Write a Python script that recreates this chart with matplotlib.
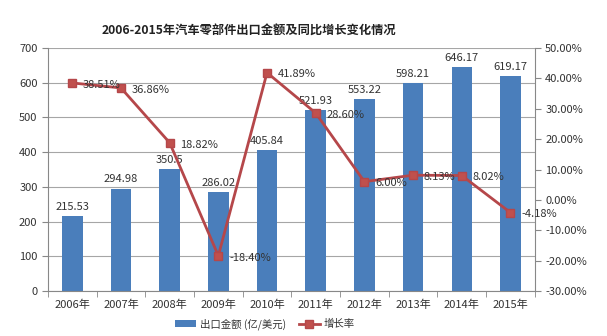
import numpy as np
import matplotlib.pyplot as plt
from matplotlib.ticker import FuncFormatter, FixedLocator

plt.rcParams['font.family'] = ['Noto Sans CJK SC', 'DejaVu Sans']

years = ['2006年', '2007年', '2008年', '2009年', '2010年', '2011年', '2012年', '2013年', '2014年', '2015年']
export = [215.53, 294.98, 350.5, 286.02, 405.84, 521.93, 553.22, 598.21, 646.17, 619.17]
export_labels = ['215.53', '294.98', '350.5', '286.02', '405.84', '521.93', '553.22', '598.21', '646.17', '619.17']
growth = [38.51, 36.86, 18.82, -18.40, 41.89, 28.60, 6.00, 8.13, 8.02, -4.18]

bar_color = '#4A7EBB'
line_color = '#B5474A'
txt = '#333333'

fig = plt.figure(figsize=(6.07, 3.36), dpi=100)
ax = fig.add_axes([0.079, 0.134, 0.802, 0.723])
x = np.arange(len(years))

bars = ax.bar(x, export, width=0.42, color=bar_color, zorder=2, label='出口金额 (亿/美元)')
ax.set_xlim(-0.5, len(years) - 0.5)
ax.set_ylim(0, 700)
ax.set_yticks(range(0, 701, 100))
ax.yaxis.grid(True, color='#a6a6a6', linewidth=0.8, zorder=0)
ax.set_axisbelow(True)
ax.set_xticks(x)
ax.set_xticklabels(years)
ax.xaxis.set_minor_locator(FixedLocator(np.arange(-0.5, len(years), 1)))
ax.tick_params(axis='x', which='major', length=0, pad=6, labelsize=8, colors=txt)
ax.tick_params(axis='x', which='minor', length=4, color='#888888')
ax.tick_params(axis='y', length=4, color='#888888', labelsize=8, labelcolor=txt)
for s in ['top', 'right']:
    ax.spines[s].set_visible(False)
for s in ['left', 'bottom']:
    ax.spines[s].set_color('#888888')

for xi, v, lab in zip(x, export, export_labels):
    ax.text(xi, v + 12, lab, ha='center', va='bottom', fontsize=8, color=txt, zorder=5)

ax2 = ax.twinx()
ax2.set_ylim(-30, 50)
ax2.set_yticks(range(-30, 51, 10))
ax2.yaxis.set_major_formatter(FuncFormatter(lambda v, p: '%.2f%%' % v))
ax2.tick_params(axis='y', length=4, color='#888888', labelsize=8, labelcolor=txt)
for s in ['top', 'left', 'bottom']:
    ax2.spines[s].set_visible(False)
ax2.spines['right'].set_color('#888888')
ln, = ax2.plot(x, growth, color=line_color, linewidth=2, marker='s', markersize=5.5,
               markerfacecolor='#C0504D', markeredgecolor=line_color, zorder=4, label='增长率')
for xi, g in zip(x, growth):
    ax2.text(xi + 0.22, g - 0.6, '%.2f%%' % g, ha='left', va='center', fontsize=8, color=txt, zorder=5)

fig.text(0.41, 0.91, '2006-2015年汽车零部件出口金额及同比增长变化情况', ha='center', va='center',
         fontsize=8.8, fontweight='bold', color='#222222')

fig.legend([bars, ln], ['出口金额 (亿/美元)', '增长率'], loc='center', bbox_to_anchor=(0.437, 0.035),
           ncol=2, frameon=False, fontsize=7.5, handlelength=2.0, handletextpad=0.4,
           columnspacing=1.2, labelcolor=txt)

fig.savefig('out.png', dpi=100)
